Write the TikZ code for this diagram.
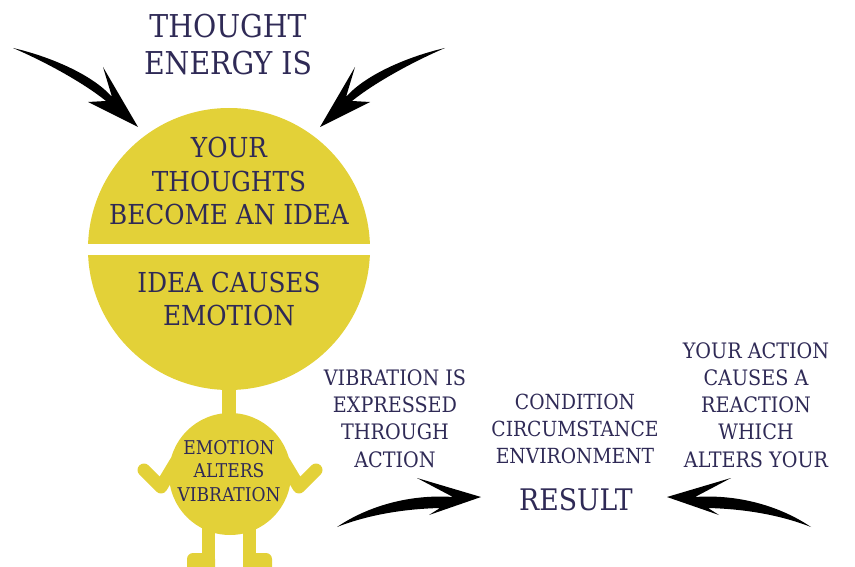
\documentclass[tikz,border=0pt]{standalone}
\usepackage{fontspec}
\setmainfont{DejaVu Serif Condensed}
\definecolor{ink}{HTML}{2F2A56}
\definecolor{sun}{HTML}{E3D138}
\tikzset{
  lbl/.style={text=ink, align=center, inner sep=0pt, anchor=base},
  sunfill/.style={fill=sun, draw=none},
  limb/.style={draw=sun, line width=13pt, line cap=round, line join=round},
  swoosh/.style={fill=black, draw=none},
}
\newcommand{\fsz}[2]{\fontsize{#1}{#2}\selectfont}
\begin{document}
\begin{tikzpicture}[x=1pt,y=-1pt]
\useasboundingbox (0,0) rectangle (855,567);

% figure: head, neck, torso, limbs
\fill[sunfill] (222,380) rectangle (236,420);
\node[circle, sunfill, minimum size=282pt, inner sep=0pt] (head) at (229,249) {};
\fill[white] (80,244) rectangle (380,255);
\draw[limb] (144,470) -- (161,487) -- (176,462);
\draw[limb] (316,470) -- (299,487) -- (284,462);
\fill[sunfill] (202,520) rectangle (215,560);
\fill[sunfill] (243,520) rectangle (256,560);
\fill[sunfill, rounded corners=6pt] (187,553) rectangle (215,575);
\fill[sunfill, rounded corners=6pt] (243,553) rectangle (272,575);
\node[circle, sunfill, minimum size=122pt, inner sep=0pt] (torso) at (230,474) {};

% texts (anchored at the baseline of their last line)
\node[lbl, font=\fsz{31.5}{37}] (title) at (228,75) {THOUGHT\\ENERGY IS};
\node[lbl, font=\fsz{27.5}{33.5}] (idea) at (229,225) {YOUR\\THOUGHTS\\BECOME AN IDEA};
\node[lbl, font=\fsz{27.5}{33}] (emotion) at (229,325) {IDEA CAUSES\\EMOTION};
\node[lbl, font=\fsz{19}{23.5}] (vibr) at (229,501) {EMOTION\\ALTERS\\VIBRATION};
\node[lbl, font=\fsz{21.3}{27.3}] (action) at (395,467) {VIBRATION IS\\EXPRESSED\\THROUGH\\ACTION};
\node[lbl, font=\fsz{20.8}{27}] (cond) at (575,463) {CONDITION\\CIRCUMSTANCE\\ENVIRONMENT};
\node[lbl, font=\fsz{29.7}{34}] (result) at (576,510) {RESULT};
\node[lbl, font=\fsz{21.3}{27.2}] (reaction) at (756,467) {YOUR ACTION\\CAUSES A\\REACTION\\WHICH\\ALTERS YOUR};

% swoosh arrows into the head
\fill[swoosh] (13,48) .. controls (48,56) and (92,74) .. (112,97) -- (103,67) -- (138,127)
  -- (88,102) -- (106,101) .. controls (85,84) and (48,63) .. (13,48) -- cycle;
\begin{scope}[xshift=458pt, xscale=-1]
\fill[swoosh] (13,48) .. controls (48,56) and (92,74) .. (112,97) -- (103,67) -- (138,127)
  -- (88,102) -- (106,101) .. controls (85,84) and (48,63) .. (13,48) -- cycle;
\end{scope}

% swoosh arrows into the result
\fill[swoosh] (337,527) .. controls (368,506) and (410,494) .. (453,497) -- (417,478) -- (481,497)
  -- (429,515) -- (440,508) .. controls (400,509) and (365,516) .. (337,527) -- cycle;
\begin{scope}[xshift=1148pt, xscale=-1]
\fill[swoosh] (337,527) .. controls (368,506) and (410,494) .. (453,497) -- (417,478) -- (481,497)
  -- (429,515) -- (440,508) .. controls (400,509) and (365,516) .. (337,527) -- cycle;
\end{scope}
\end{tikzpicture}
\end{document}
